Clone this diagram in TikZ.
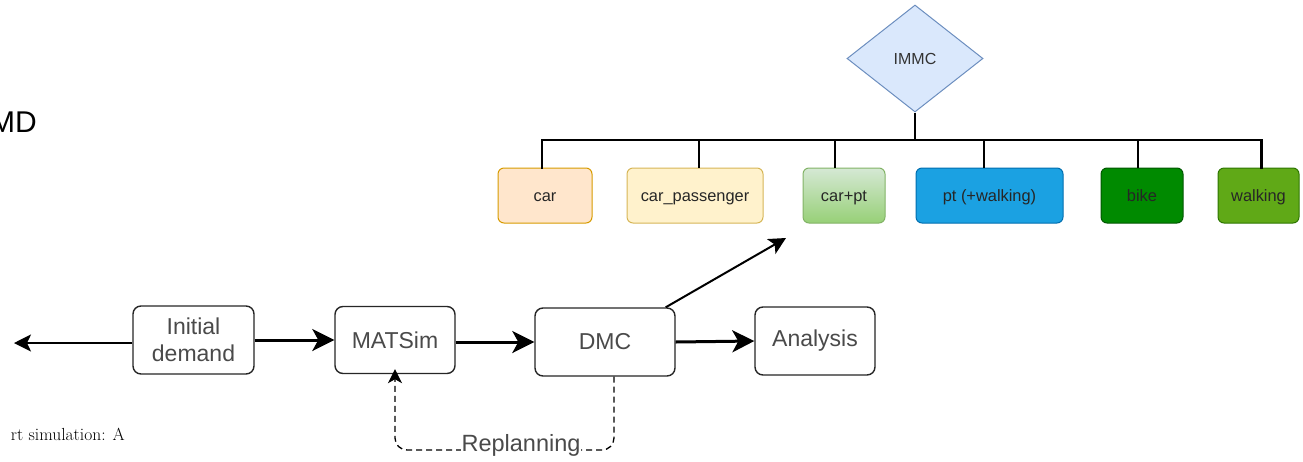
\documentclass[tikz,border=0pt]{standalone}
\usepackage{fontspec}
\setmainfont{Liberation Sans}
\newfontfamily\lmserif{Latin Modern Roman}
\usetikzlibrary{arrows.meta,shapes.geometric,calc}
\definecolor{txtgray}{HTML}{4A4A4A}
\definecolor{carF}{HTML}{FFE6CC}\definecolor{carD}{HTML}{D79B00}
\definecolor{cpF}{HTML}{FFF2CC}\definecolor{cpD}{HTML}{D6B656}
\definecolor{cptA}{HTML}{D5E8D4}\definecolor{cptB}{HTML}{97D077}\definecolor{cptD}{HTML}{82B366}
\definecolor{ptF}{HTML}{1BA1E2}\definecolor{ptD}{HTML}{006EAF}
\definecolor{bikeF}{HTML}{008A00}\definecolor{bikeD}{HTML}{005700}
\definecolor{walkF}{HTML}{60A917}\definecolor{walkD}{HTML}{2D7600}
\definecolor{immcF}{HTML}{DAE8FC}\definecolor{immcD}{HTML}{6C8EBF}
\tikzset{
  flowbox/.style={draw=black!85, line width=1.4pt, rounded corners=8pt, fill=white,
    text=txtgray, align=center, font=\fontsize{23}{27}\selectfont, inner sep=0pt},
  modebox/.style={line width=1pt, rounded corners=6pt, minimum height=55pt,
    font=\fontsize{16.4}{18}\selectfont, text=black!85, inner sep=0pt,
    text height=12pt, text depth=0pt},
  thickarrow/.style={line width=3pt, -{Stealth[length=22pt,width=22pt,inset=6pt]}},
  thinarrow/.style={line width=2pt, -{Stealth[length=17pt,width=17pt,inset=4pt]}},
  treeline/.style={line width=2.8pt, black},
}
\begin{document}
\begin{tikzpicture}[x=1pt,y=-1pt]
\path[use as bounding box] (0,0) rectangle (1303,461);

% left text fragments
\node[anchor=east, inner sep=0pt, font=\fontsize{30}{32}\selectfont] (md) at (37,122) {MD};
\node[anchor=base east, inner sep=0pt, font=\lmserif\fontsize{17.5}{19}\selectfont] (cap) at (125,440) {rt simulation: A};

% flow boxes
\node[flowbox, minimum width=121pt, minimum height=68pt] (init) at (193.5,340) {Initial\\demand};
\node[flowbox, minimum width=120pt, minimum height=67pt] (matsim) at (395,340) {MATSim};
\node[flowbox, minimum width=140pt, minimum height=68pt] (dmc) at (605,342) {DMC};
\node[flowbox, minimum width=120pt, minimum height=68pt] (ana) at (815,341) {Analysis};

\coordinate (leftend) at (14,343);
\draw[thinarrow] (init.west |- leftend) -- (leftend);
\draw[thickarrow] (init.east) -- (matsim.west);
\draw[thickarrow] (matsim.east |- dmc.west) -- (dmc.west);
\draw[thickarrow] (dmc.east) -- (ana.west);

% replanning loop
\coordinate (loopR) at (614,450);
\coordinate (loopL) at (395,450);
\draw[line width=1.3pt, dashed, dash pattern=on 6pt off 4pt, rounded corners=12pt,
  -{Stealth[length=14pt,width=14pt,inset=4pt]}]
  (dmc.south -| loopR) -- (loopR) -- (loopL) -- ([yshift=5pt]matsim.south);
\node[fill=white, inner sep=1pt, text=txtgray, font=\fontsize{23.5}{25}\selectfont] (repl) at (521,445) {Replanning};

% IMMC diamond
\node[diamond, draw=immcD, fill=immcF, line width=1pt, minimum width=136pt, minimum height=107pt,
  inner sep=0pt, font=\fontsize{16}{18}\selectfont, text=black!80] (immc) at (915,58.5) {IMMC};

% mode boxes
\node[modebox, draw=carD, fill=carF, minimum width=94pt] (car) at (545,195.5) {car};
\node[modebox, draw=cpD, fill=cpF, minimum width=136pt] (cp) at (695,195.5) {car\_passenger};
\node[modebox, draw=cptD, top color=cptA, bottom color=cptB, minimum width=82pt] (cpt) at (844,195.5) {car+pt};
\node[modebox, draw=ptD, fill=ptF, minimum width=147pt] (pt) at (989.5,195.5) {pt (+walking)};
\node[modebox, draw=bikeD, fill=bikeF, minimum width=82pt] (bike) at (1142,195.5) {bike};
\node[modebox, draw=walkD, fill=walkF, minimum width=81pt] (walk) at (1258.5,195.5) {walking};

% tree connectors
\coordinate (bar) at (915,140);
\draw[treeline] (immc.south) -- (bar);
\draw[treeline, line cap=rect] ([xshift=-3pt]car.north) |- (bar) -| ([xshift=3pt]walk.north);
\draw[treeline] ([xshift=4pt]cp.north) -- ([xshift=4pt]cp.north |- bar);
\draw[treeline] ([xshift=-9pt]cpt.north) -- ([xshift=-9pt]cpt.north |- bar);
\draw[treeline] ([xshift=-5.5pt]pt.north) -- ([xshift=-5.5pt]pt.north |- bar);
\draw[treeline] ([xshift=-4pt]bike.north) -- ([xshift=-4pt]bike.north |- bar);

% DMC to car+pt
\coordinate (cptarrow) at (786,238);
\draw[thinarrow] ([xshift=-10pt]dmc.north east) -- (cptarrow);
\end{tikzpicture}
\end{document}
